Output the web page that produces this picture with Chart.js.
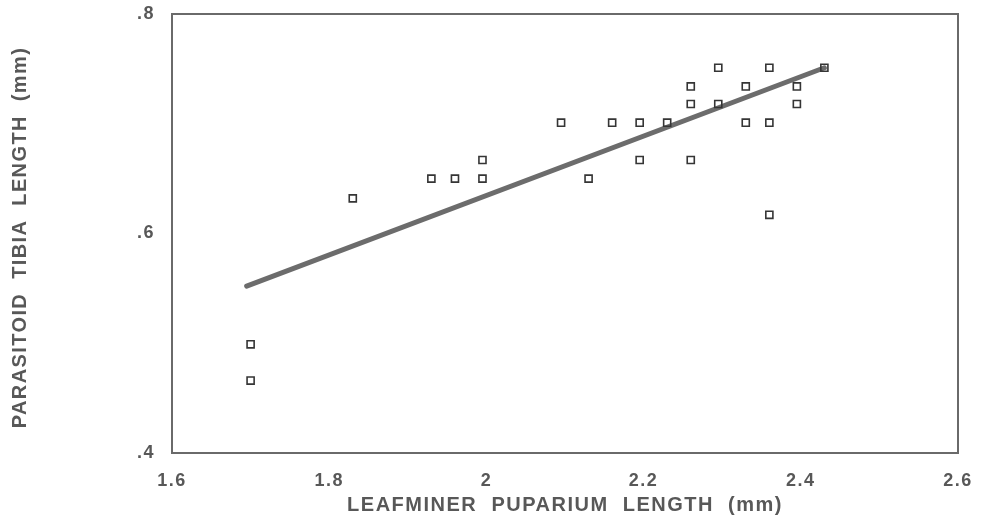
<!DOCTYPE html>
<html>
<head>
<meta charset="utf-8">
<script src="https://cdn.jsdelivr.net/npm/chart.js@4/dist/chart.umd.min.js"></script>
<style>
  html, body { margin: 0; padding: 0; background: #ffffff; }
  #wrap { width: 982px; height: 521px; position: relative; }
</style>
</head>
<body>
<div id="wrap"><canvas id="c"></canvas></div>
<script>
// Observed points (leafminer puparium length, parasitoid tibia length), mm
const puparium = [1.70, 1.70, 1.83, 1.93, 1.96, 1.995, 1.995, 2.095, 2.13, 2.16, 2.195, 2.195, 2.23,
                  2.26, 2.26, 2.26, 2.295, 2.295, 2.33, 2.33, 2.36, 2.36, 2.36, 2.395, 2.395, 2.43];
const tibia    = [0.499, 0.466, 0.632, 0.650, 0.650, 0.667, 0.650, 0.701, 0.650, 0.701, 0.667, 0.701, 0.701,
                  0.734, 0.718, 0.667, 0.751, 0.718, 0.734, 0.701, 0.751, 0.701, 0.617, 0.734, 0.718, 0.751];
// Regression line end points
const fitX = [1.695, 2.43];
const fitY = [0.552, 0.751];
// Axis ticks
const xTicks = [1.6, 1.8, 2.0, 2.2, 2.4, 2.6];
const yTicks = [0.4, 0.6, 0.8];
const xTitle = 'LEAFMINER  PUPARIUM  LENGTH  (mm)';
const yTitle = 'PARASITOID  TIBIA  LENGTH  (mm)';

const pts = puparium.map((x, i) => ({ x: x, y: tibia[i] }));
const fit = fitX.map((x, i) => ({ x: x, y: fitY[i] }));

const TEXT = '#585858';
const AXIS = '#6a6a6a';

const boxPlugin = {
  id: 'box',
  beforeDatasetsDraw(chart) {
    const { ctx, chartArea: a } = chart;
    ctx.save();
    ctx.strokeStyle = AXIS;
    ctx.lineWidth = 2;
    ctx.strokeRect(a.left, a.top, a.right - a.left, a.bottom - a.top);
    ctx.restore();
  }
};

const spacingPlugin = {
  id: 'spacing',
  afterLayout(chart) {
    ['x', 'y'].forEach(id => {
      const s = chart.scales[id];
      if (s && !s._patched) {
        const origT = s.drawTitle.bind(s);
        s.drawTitle = function () {
          const ctx = this.ctx;
          ctx.save();
          ctx.letterSpacing = id === 'y' ? '1.4px' : '1.5px';
          if (id === 'y') ctx.translate(0, 4);
          origT();
          ctx.restore();
        };
        const origL = s.drawLabels.bind(s);
        s.drawLabels = function (ca) {
          const ctx = this.ctx;
          ctx.save();
          ctx.letterSpacing = '1.5px';
          origL(ca);
          ctx.restore();
        };
        s._patched = true;
      }
    });
  }
};

new Chart(document.getElementById('c'), {
  type: 'scatter',
  data: {
    datasets: [
      {
        label: 'fit',
        type: 'line',
        data: fit,
        borderColor: '#6c6c6c',
        borderWidth: 5,
        borderCapStyle: 'round',
        pointRadius: 0,
        fill: false,
        order: 2
      },
      {
        label: 'observed',
        data: pts,
        pointStyle: 'rect',
        pointRadius: 5,
        pointBorderWidth: 1.6,
        pointBorderColor: '#353535',
        pointBackgroundColor: 'rgba(255,255,255,0)',
        order: 1
      }
    ]
  },
  options: {
    responsive: true,
    maintainAspectRatio: false,
    animation: false,
    layout: { padding: { left: 0, right: 24, top: 14, bottom: 0 } },
    plugins: { legend: { display: false }, tooltip: { enabled: false } },
    scales: {
      x: {
        type: 'linear',
        min: 1.6, max: 2.6,
        afterBuildTicks: s => { s.ticks = xTicks.map(v => ({ value: v })); },
        afterFit: s => { s.height = 68; s.paddingLeft = 0; s.paddingRight = 0; },
        grid: { display: false, drawTicks: false },
        border: { display: false },
        ticks: {
          padding: 17,
          color: TEXT,
          font: { family: 'Liberation Sans', size: 18, weight: 'bold' },
          callback: v => String(Math.round(v * 10) / 10)
        },
        title: {
          display: true,
          text: xTitle,
          color: TEXT,
          font: { family: 'Liberation Sans', size: 20, weight: 'bold' },
          padding: { top: 0, bottom: 4 }
        }
      },
      y: {
        type: 'linear',
        min: 0.4, max: 0.8,
        afterBuildTicks: s => { s.ticks = yTicks.map(v => ({ value: v })); },
        afterFit: s => { s.width = 172; s.paddingTop = 0; s.paddingBottom = 0; },
        grid: { display: false, drawTicks: false },
        border: { display: false },
        ticks: {
          padding: 17,
          color: TEXT,
          font: { family: 'Liberation Sans', size: 18, weight: 'bold' },
          callback: v => (Math.round(v * 10) / 10).toFixed(1).replace(/^0/, '')
        },
        title: {
          display: true,
          text: yTitle,
          color: TEXT,
          font: { family: 'Liberation Sans', size: 20, weight: 'bold' },
          padding: { top: 8, bottom: 0 }
        }
      }
    }
  },
  plugins: [boxPlugin, spacingPlugin]
});
</script>
</body>
</html>
